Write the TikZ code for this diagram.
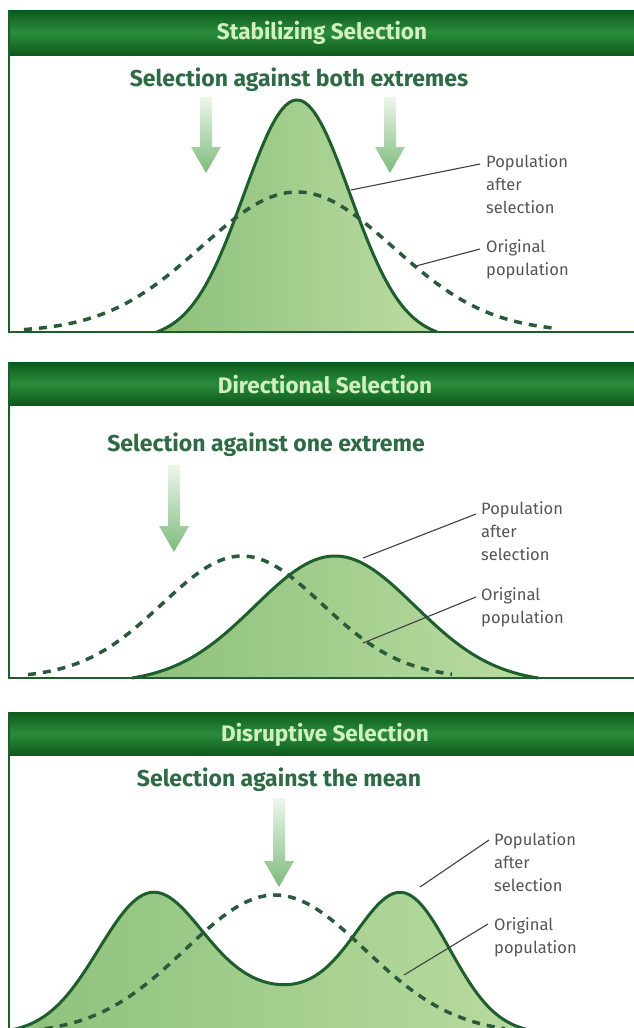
\documentclass[tikz,border=0pt]{standalone}
\usepackage{fontspec}
\setmainfont{Fira Sans}
\usetikzlibrary{calc}
\definecolor{hdrdark}{HTML}{0E5A1C}
\definecolor{hdrmid}{HTML}{2A8C3B}
\definecolor{hdrtext}{HTML}{D2EFC0}
\definecolor{titlegreen}{HTML}{2E6A45}
\definecolor{curvegreen}{HTML}{1E5E2C}
\definecolor{dashgreen}{HTML}{2B5A3A}
\definecolor{fillleft}{HTML}{8CC07A}
\definecolor{fillright}{HTML}{BCDCA2}
\definecolor{arrowtop}{HTML}{EEF6EC}
\definecolor{arrowbot}{HTML}{7DBB7D}
\definecolor{labgray}{HTML}{555555}
\tikzset{
  declare function={gs(\x,\c,\s)=exp(-0.5*((\x-\c)/\s)*((\x-\c)/\s));},
  panelbox/.style={draw=curvegreen, line width=1.5pt},
  header/.style={top color=hdrdark, bottom color=hdrdark, middle color=hdrmid},
  headtext/.style={font=\bfseries\fontsize{22.5}{26}\selectfont, text=hdrtext, inner sep=0pt},
  seltitle/.style={font=\bfseries\fontsize{23}{27}\selectfont, text=titlegreen, inner sep=0pt},
  lab/.style={font=\fontsize{16.5}{23}\selectfont, text=labgray, align=left, inner sep=0pt, anchor=north west},
  leader/.style={draw=black!75, line width=1.1pt},
  solidcurve/.style={draw=curvegreen, line width=3pt},
  dashcurve/.style={draw=dashgreen, line width=3.5pt, dash pattern=on 8pt off 7pt},
  popfill/.style={left color=fillleft, right color=fillright},
}
\newcommand{\selarrow}[3]{%
  \shade[top color=arrowtop, bottom color=arrowbot]
    (#1-6,#2) -- (#1+6,#2) -- (#1+6,#3-26) -- (#1+15,#3-26) -- (#1,#3)
    -- (#1-15,#3-26) -- (#1-6,#3-26) -- cycle;}
\begin{document}
\begin{tikzpicture}[x=1pt,y=-1pt]
\useasboundingbox[fill=white] (0,0) rectangle (633,1028);

% ---------------- Panel 1: Stabilizing ----------------
\path[header] (9,10) rectangle (645,55);
\node[headtext] (h1) at (322,33) {Stabilizing Selection};
\node[seltitle] (t1) at (299,80) {Selection against both extremes};
\selarrow{206}{97}{173}
\selarrow{390}{97}{173}
\path[popfill] plot[domain=157:437, samples=90] (\x,{332-232*(gs(\x,297,53)-0.03)/0.97}) -- cycle;
\draw[solidcurve] plot[domain=157:437, samples=90] (\x,{332-232*(gs(\x,297,53)-0.03)/0.97});
\draw[dashcurve] plot[domain=24:553, samples=120] (\x,{332-140*gs(\x,297,96)});
\draw[panelbox] (645,332) -- (9,332) -- (9,10);
\node[lab] (p1) at (486,154) {Population\\after\\selection};
\node[lab] (o1) at (486,239) {Original\\population};
\coordinate (p1s) at (351,190);
\coordinate (p1e) at (480,164);
\coordinate (o1s) at (416,266);
\coordinate (o1e) at (480,249);
\draw[leader] (p1s) -- (p1e);
\draw[leader] (o1s) -- (o1e);

% ---------------- Panel 2: Directional ----------------
\path[header] (9,362) rectangle (645,405);
\node[headtext] (h2) at (325,385) {Directional Selection};
\node[seltitle] (t2) at (266,445) {Selection against one extreme};
\selarrow{174}{465}{552}
\path[popfill] plot[domain=132:538, samples=90] (\x,{678-122*(gs(\x,335,80)-0.04)/0.96}) -- cycle;
\draw[solidcurve] plot[domain=132:538, samples=90] (\x,{678-122*(gs(\x,335,80)-0.04)/0.96});
\draw[dashcurve] plot[domain=28:452, samples=100] (\x,{678-122*gs(\x,242,80)});
\draw[panelbox] (645,678) -- (9,678) -- (9,362);
\node[lab] (p2) at (481,501) {Population\\after\\selection};
\node[lab] (o2) at (481,587) {Original\\population};
\coordinate (p2s) at (363,558);
\coordinate (p2e) at (476,514);
\coordinate (o2s) at (363,643);
\coordinate (o2e) at (476,597);
\draw[leader] (p2s) -- (p2e);
\draw[leader] (o2s) -- (o2e);

% ---------------- Panel 3: Disruptive ----------------
\path[header] (9,712) rectangle (645,755);
\node[headtext] (h3) at (325,735) {Disruptive Selection};
\node[seltitle] (t3) at (279,780) {Selection against the mean};
\selarrow{279}{798}{887}
\begin{scope}
\clip (0,700) rectangle (633,1028);
\path[popfill] plot[domain=-5:560, samples=150]
  (\x,{1034-130*gs(\x,149,52)-130*gs(\x,404,47)-40*gs(\x,276.5,80)}) -- cycle;
\draw[solidcurve] plot[domain=-5:560, samples=150]
  (\x,{1034-130*gs(\x,149,52)-130*gs(\x,404,47)-40*gs(\x,276.5,80)});
\draw[dashcurve] plot[domain=30:505, samples=110] (\x,{1034-139*gs(\x,275,90)});
\draw[panelbox] (9,1040) -- (9,712);
\end{scope}
\node[lab] (p3) at (494,832) {Population\\after\\selection};
\node[lab] (o3) at (494,917) {Original\\population};
\coordinate (p3s) at (420,887);
\coordinate (p3e) at (489,840);
\coordinate (o3s) at (404,975);
\coordinate (o3e) at (488,924);
\draw[leader] (p3s) -- (p3e);
\draw[leader] (o3s) -- (o3e);
\end{tikzpicture}
\end{document}
